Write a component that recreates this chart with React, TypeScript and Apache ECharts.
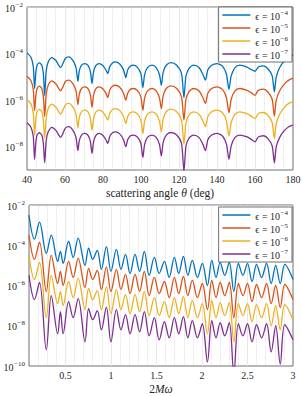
import React, { useEffect, useRef } from 'react';
import * as echarts from 'echarts';

const COLORS = ['#0072BD', '#D95319', '#EDB120', '#7E2F8E'];
const epsExponents = [-4, -5, -6, -7];

// ---- top panel: amplitude vs scattering angle (log10 values)
const thetaDeg = [
  40, 42, 43.3, 44,
  44.6, 45.3, 46.5, 47.8, 48.6, 49.3,
  50.1, 51.2, 53, 55.2, 56.7, 57.7,
  58.8, 60.2, 62, 64.2, 65.8, 66.8,
  67.5, 68.7, 70.4, 72.2, 73.4, 74.2,
  75, 76.2, 78, 80, 81.5, 82.5,
  83.6, 85, 86.5, 88.8, 90.8, 92,
  93, 94.3, 96, 98, 99.9, 101,
  101.9, 103.4, 105.8, 108, 109.7, 110.7,
  111.7, 113.3, 115.8, 118.8, 121.3, 122.6,
  123.7, 125.4, 127.7, 130.5, 132.6, 133.9,
  135.2, 137.2, 140, 143, 145, 146.3,
  147.5, 149.5, 152, 155.5, 158.3, 160,
  161.5, 163, 164.6, 166.8, 169, 170.2,
  171.2, 173, 175.5, 178, 180,
];
const thetaLogE4 = [
  -3.97, -4.15, -4.55, -5.5,
  -4.85, -4.5, -4.4, -4.5, -4.85, -5.8,
  -4.75, -4.35, -4.17, -4.3, -4.5, -4.6,
  -4.45, -4.2, -4.14, -4.3, -4.6, -5.19,
  -4.75, -4.5, -4.43, -4.52, -4.8, -5.29,
  -4.8, -4.52, -4.43, -4.52, -4.7, -4.86,
  -4.55, -4.4, -4.36, -4.45, -4.7, -5.03,
  -4.7, -4.54, -4.5, -4.58, -4.85, -5.46,
  -4.9, -4.6, -4.5, -4.6, -4.9, -5.36,
  -4.8, -4.5, -4.39, -4.5, -4.85, -5.89,
  -4.95, -4.62, -4.5, -4.6, -4.9, -5.14,
  -4.7, -4.5, -4.43, -4.55, -4.9, -5.54,
  -4.95, -4.6, -4.5, -4.57, -4.7, -4.76,
  -4.6, -4.54, -4.53, -4.65, -4.95, -5.64,
  -5.0, -4.6, -4.3, -4.13, -4.07,
];
const thetaLogE5 = [
  -4.97, -5.15, -5.55, -6.45,
  -5.85, -5.5, -5.4, -5.5, -5.85, -6.7,
  -5.75, -5.35, -5.17, -5.3, -5.5, -5.6,
  -5.45, -5.2, -5.14, -5.3, -5.6, -6.19,
  -5.75, -5.5, -5.43, -5.52, -5.8, -6.31,
  -5.8, -5.52, -5.43, -5.52, -5.7, -5.89,
  -5.55, -5.4, -5.36, -5.45, -5.7, -6.0,
  -5.7, -5.54, -5.5, -5.58, -5.85, -6.43,
  -5.9, -5.6, -5.5, -5.6, -5.9, -6.36,
  -5.8, -5.5, -5.39, -5.5, -5.85, -6.86,
  -5.95, -5.62, -5.5, -5.6, -5.9, -6.14,
  -5.7, -5.5, -5.43, -5.55, -5.9, -6.54,
  -5.95, -5.6, -5.5, -5.57, -5.7, -5.79,
  -5.6, -5.54, -5.53, -5.65, -5.95, -6.69,
  -6.0, -5.6, -5.3, -5.13, -5.07,
];
const thetaLogE6 = [
  -5.97, -6.15, -6.55, -7.5,
  -6.85, -6.5, -6.4, -6.5, -6.85, -7.64,
  -6.75, -6.35, -6.17, -6.3, -6.5, -6.6,
  -6.45, -6.2, -6.14, -6.3, -6.6, -7.19,
  -6.75, -6.5, -6.43, -6.52, -6.8, -7.29,
  -6.8, -6.52, -6.43, -6.52, -6.7, -6.86,
  -6.55, -6.4, -6.36, -6.45, -6.7, -7.0,
  -6.7, -6.54, -6.5, -6.58, -6.85, -7.43,
  -6.9, -6.6, -6.5, -6.6, -6.9, -7.36,
  -6.8, -6.5, -6.39, -6.5, -6.85, -7.89,
  -6.95, -6.62, -6.5, -6.6, -6.9, -7.14,
  -6.7, -6.5, -6.43, -6.55, -6.9, -7.54,
  -6.95, -6.6, -6.5, -6.57, -6.7, -6.79,
  -6.6, -6.54, -6.53, -6.65, -6.95, -7.64,
  -7.0, -6.6, -6.3, -6.13, -6.07,
];
const thetaLogE7 = [
  -6.97, -7.15, -7.55, -8.54,
  -7.85, -7.5, -7.4, -7.5, -7.85, -8.69,
  -7.75, -7.35, -7.17, -7.3, -7.5, -7.6,
  -7.45, -7.2, -7.14, -7.3, -7.6, -8.17,
  -7.75, -7.5, -7.43, -7.52, -7.8, -8.29,
  -7.8, -7.52, -7.43, -7.52, -7.7, -7.86,
  -7.55, -7.4, -7.36, -7.45, -7.7, -8.0,
  -7.7, -7.54, -7.5, -7.58, -7.85, -8.46,
  -7.9, -7.6, -7.5, -7.6, -7.9, -8.4,
  -7.8, -7.5, -7.39, -7.5, -7.85, -9.05,
  -7.95, -7.62, -7.5, -7.6, -7.9, -8.17,
  -7.7, -7.5, -7.43, -7.55, -7.9, -8.54,
  -7.95, -7.6, -7.5, -7.57, -7.7, -7.79,
  -7.6, -7.54, -7.53, -7.65, -7.95, -8.69,
  -8.0, -7.6, -7.3, -7.13, -7.07,
];

// ---- bottom panel: amplitude vs 2Mω (log10 values)
const twoMOmega = [
  0.10, 0.16, 0.215, 0.29, 0.345, 0.415, 0.445, 0.475, 0.535, 0.585,
  0.64, 0.715, 0.755, 0.80, 0.85, 0.895, 0.95, 1.0, 1.06, 1.11,
  1.16, 1.21, 1.265, 1.315, 1.367, 1.42, 1.477, 1.53, 1.587, 1.64,
  1.697, 1.745, 1.796, 1.845, 1.894, 1.95, 2.004, 2.06, 2.108, 2.155,
  2.2, 2.25, 2.3, 2.35, 2.4, 2.45, 2.5, 2.55, 2.6, 2.655,
  2.71, 2.76, 2.81, 2.86, 2.91, 3.0,
];
const omegaLogE4 = [
  -2.5, -3.7, -2.85, -4.4, -3.5, -4.8, -4.3, -4.9, -3.8, -4.6,
  -3.65, -5.0, -4.15, -4.7, -4.25, -5.2, -4.07, -5.3, -4.2, -5.2,
  -4.45, -5.4, -4.45, -5.3, -4.3, -5.5, -4.6, -5.4, -4.8, -5.6,
  -4.6, -5.4, -4.55, -5.5, -4.75, -5.6, -4.9, -6.0, -4.75, -5.6,
  -4.85, -5.5, -4.85, -6.3, -4.9, -5.5, -4.9, -5.8, -4.95, -5.6,
  -4.9, -5.9, -5.0, -5.9, -4.95, -5.7,
];
const omegaLogE5 = [
  -3.5, -4.7, -3.85, -6.3, -4.5, -5.9, -5.3, -6.0, -4.8, -5.6,
  -4.65, -6.1, -5.15, -5.7, -5.25, -6.2, -5.07, -6.3, -5.2, -6.2,
  -5.45, -6.4, -5.45, -6.3, -5.3, -6.5, -5.6, -6.4, -5.8, -6.6,
  -5.6, -6.4, -5.55, -6.5, -5.75, -6.6, -5.9, -7.2, -5.75, -6.6,
  -5.85, -6.5, -5.85, -7.6, -5.9, -6.5, -5.9, -6.8, -5.95, -6.6,
  -5.9, -6.9, -6.0, -7.1, -5.95, -6.7,
];
const omegaLogE6 = [
  -4.5, -5.7, -4.85, -7.6, -5.5, -6.9, -6.3, -7.0, -5.8, -6.6,
  -5.65, -7.2, -6.15, -6.7, -6.25, -7.2, -6.07, -7.4, -6.2, -7.2,
  -6.45, -7.4, -6.45, -7.3, -6.3, -7.5, -6.6, -7.5, -6.8, -7.6,
  -6.6, -7.4, -6.55, -7.6, -6.75, -7.6, -6.9, -8.4, -6.75, -7.6,
  -6.85, -7.5, -6.85, -8.8, -6.9, -7.5, -6.9, -7.8, -6.95, -7.6,
  -6.9, -8.0, -7.0, -8.2, -6.95, -7.7,
];
const omegaLogE7 = [
  -5.5, -6.7, -5.85, -9.2, -6.5, -8.4, -7.3, -8.4, -6.8, -7.6,
  -6.65, -8.8, -7.15, -7.7, -7.25, -8.2, -7.07, -8.8, -7.2, -8.2,
  -7.45, -8.4, -7.45, -8.3, -7.3, -8.5, -7.6, -8.7, -7.8, -8.6,
  -7.6, -8.4, -7.55, -8.6, -7.75, -8.6, -7.9, -9.8, -7.75, -8.6,
  -7.85, -8.5, -7.85, -10.4, -7.9, -8.5, -7.9, -8.8, -7.95, -8.6,
  -7.9, -9.3, -8.0, -9.9, -7.95, -8.7,
];

const FONT = "'Liberation Serif', 'DejaVu Serif', serif";
const supStr = (e: number) => `${e < 0 ? '\u2212' : ''}${Math.abs(e)}`;
const seriesNames = epsExponents.map((e) => `\u03F5 = 10^${e}`);

const pairs = (xs: number[], logs: number[]) => xs.map((x, i) => [x, Math.pow(10, logs[i])]);

function gridLines(xMinor: number[], xMajor: number[], yMinor: number[], yMajor: number[]) {
  const minorStyle = { type: 'dotted', color: '#c9c9c9', width: 0.6 };
  const majorStyle = { type: 'solid', color: '#e2e2e2', width: 0.8 };
  return [
    ...yMinor.map((v) => ({ yAxis: v, lineStyle: minorStyle })),
    ...xMinor.map((v) => ({ xAxis: v, lineStyle: minorStyle })),
    ...yMajor.map((v) => ({ yAxis: v, lineStyle: majorStyle })),
    ...xMajor.map((v) => ({ xAxis: v, lineStyle: majorStyle })),
  ];
}

function logMinor(kMin: number, kMax: number) {
  const out: number[] = [];
  for (let k = kMin; k < kMax; k++) {
    if (k !== kMin && k % 2 !== 0) out.push(Math.pow(10, k));
    for (let m = 2; m <= 9; m++) out.push(m * Math.pow(10, k));
  }
  return out;
}

export default function App() {
  const ref = useRef<HTMLDivElement>(null);
  useEffect(() => {
    if (!ref.current) return;
    const chart = echarts.init(ref.current, undefined, { renderer: 'svg' });

    const topXMinor: number[] = [];
    for (let v = 45; v < 180; v += 5) if (v % 20 !== 0) topXMinor.push(v);
    const botXMinor: number[] = [];
    for (let i = 2; i < 30; i++) if (i % 5 !== 0) botXMinor.push(i / 10);

    const supRich = {
      sup: { fontFamily: FONT, fontSize: 7, verticalAlign: 'top', lineHeight: 12, padding: [0, 0, 0, 0.5] },
      b: { fontFamily: FONT, fontSize: 10, verticalAlign: 'bottom', lineHeight: 12 },
    };
    const yLabel = {
      fontFamily: FONT,
      fontSize: 10,
      color: '#262626',
      margin: 4,
      rich: supRich,
      formatter: (v: number) => {
        const e = Math.round(Math.log10(v));
        if (e % 2 !== 0) return '';
        return `{b|10}{sup|${supStr(e)}}`;
      },
    };
    const axisTick = { show: false };

    const legendBase = {
      orient: 'vertical',
      right: 10,
      backgroundColor: '#ffffff',
      borderColor: '#333333',
      borderWidth: 0.7,
      borderRadius: 0,
      padding: [2, 4, 2, 3],
      itemGap: 1,
      itemWidth: 28,
      itemHeight: 12,
      itemStyle: { opacity: 0 },
      lineStyle: { width: 1.5 },
      data: seriesNames,
      textStyle: { fontFamily: FONT, fontSize: 10, color: '#262626', rich: supRich },
      formatter: (name: string) => {
        const e = Number(name.split('^')[1]);
        return `{b|\u03F5 = 10}{sup|${supStr(e)}}`;
      },
    };

    const topSets = [thetaLogE4, thetaLogE5, thetaLogE6, thetaLogE7];
    const botSets = [omegaLogE4, omegaLogE5, omegaLogE6, omegaLogE7];

    const series: any[] = [];
    series.push({
      type: 'line', xAxisIndex: 0, yAxisIndex: 0, data: [], silent: true, z: 1,
      markLine: {
        silent: true, z: 1, symbol: ['none', 'none'], label: { show: false }, animation: false,
        data: gridLines(topXMinor, [60, 80, 100, 120, 140, 160], logMinor(-9, -2), [1e-8, 1e-6, 1e-4]),
      },
    });
    series.push({
      type: 'line', xAxisIndex: 1, yAxisIndex: 1, data: [], silent: true, z: 1,
      markLine: {
        silent: true, z: 1, symbol: ['none', 'none'], label: { show: false }, animation: false,
        data: gridLines(botXMinor, [0.5, 1, 1.5, 2, 2.5], logMinor(-10, -2), [1e-8, 1e-6, 1e-4]),
      },
    });
    topSets.forEach((s, i) => {
      series.push({
        type: 'line', name: seriesNames[i], xAxisIndex: 0, yAxisIndex: 0,
        data: pairs(thetaDeg, s), symbol: 'none', showSymbol: false, smooth: 0.25,
        lineStyle: { color: COLORS[i], width: 1.3 }, itemStyle: { color: COLORS[i] }, z: 3,
      });
    });
    botSets.forEach((s, i) => {
      series.push({
        type: 'line', name: seriesNames[i], xAxisIndex: 1, yAxisIndex: 1,
        data: pairs(twoMOmega, s), symbol: 'none', showSymbol: false, smooth: 0.35,
        lineStyle: { color: COLORS[i], width: 1.3 }, itemStyle: { color: COLORS[i] }, z: 3,
      });
    });

    const nameStyle = {
      fontFamily: FONT, fontSize: 11.5, color: '#262626',
      rich: { i: { fontFamily: FONT, fontSize: 11.5, fontStyle: 'italic' } },
    };

    chart.setOption({
      animation: false,
      backgroundColor: '#ffffff',
      grid: [
        { left: 27, right: 9, top: 7, height: 163, show: true, borderColor: '#4d4d4d', borderWidth: 0.8, backgroundColor: '#fff', containLabel: false, outerBoundsMode: 'none' },
        { left: 29, right: 9, top: 205, height: 161, show: true, borderColor: '#4d4d4d', borderWidth: 0.8, backgroundColor: '#fff', containLabel: false, outerBoundsMode: 'none' },
      ],
      xAxis: [
        {
          type: 'value', gridIndex: 0, min: 40, max: 180, interval: 20,
          axisLine: { show: false }, axisTick, splitLine: { show: false },
          axisLabel: { fontFamily: FONT, fontSize: 10, color: '#262626', margin: 4 },
          name: 'scattering angle {i|\u03B8} (deg)', nameLocation: 'middle', nameGap: 17,
          nameTextStyle: nameStyle,
        },
        {
          type: 'value', gridIndex: 1, min: 0.1, max: 3, splitNumber: 6,
          axisLine: { show: false }, axisTick, splitLine: { show: false },
          axisLabel: {
            fontFamily: FONT, fontSize: 10, color: '#262626', margin: 4,
            formatter: (v: number) => (Math.abs(v * 2 - Math.round(v * 2)) > 1e-6 ? '' : String(v)),
          },
          name: '2{i|M\u03C9}', nameLocation: 'middle', nameGap: 17,
          nameTextStyle: nameStyle,
        },
      ],
      yAxis: [
        {
          type: 'log', logBase: 10, gridIndex: 0, min: 1e-9, max: 1e-2,
          axisLine: { show: false }, axisTick, splitLine: { show: false }, axisLabel: yLabel,
        },
        {
          type: 'log', logBase: 10, gridIndex: 1, min: 1e-10, max: 1e-2,
          axisLine: { show: false }, axisTick, splitLine: { show: false }, axisLabel: yLabel,
        },
      ],
      legend: [
        { ...legendBase, top: 7 },
        { ...legendBase, top: 207 },
      ],
      series,
    });
    return () => chart.dispose();
  }, []);

  return <div ref={ref} style={{ position: 'absolute', left: 0, top: 0, width: 302, height: 396 }} />;
}
